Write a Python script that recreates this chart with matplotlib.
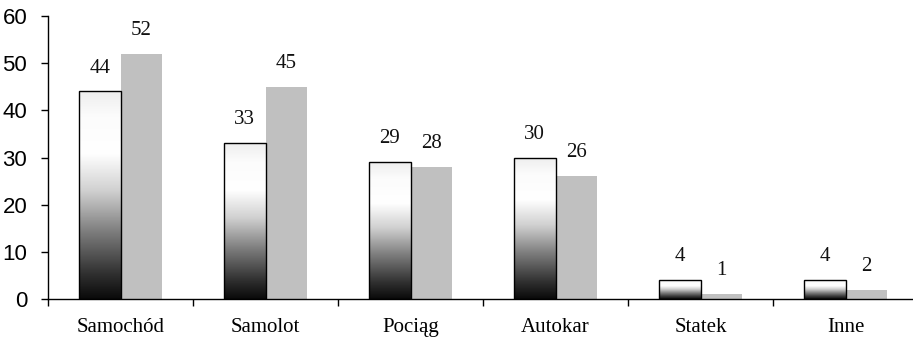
import matplotlib
matplotlib.use("Agg")
import matplotlib.pyplot as plt
import numpy as np
from matplotlib.colors import LinearSegmentedColormap

categories = ["Samochód", "Samolot", "Pociąg", "Autokar", "Statek", "Inne"]
series_a = [44, 33, 29, 30, 4, 4]
series_b = [52, 45, 28, 26, 1, 2]
yticks = [0, 10, 20, 30, 40, 50, 60]

fig = plt.figure(figsize=(9.13, 3.39), dpi=100)
ax = fig.add_axes([48/913, 40/339, 870/913, 283/339])

cmap = LinearSegmentedColormap.from_list("grad", [
    (0.0, "#0a0a0a"), (0.12, "#303030"), (0.32, "#7c7c7c"),
    (0.52, "#d0d0d0"), (0.7, "#ffffff"), (0.88, "#fcfcfc"), (1.0, "#eeeeee")])

n = len(categories)
centers = np.arange(n) + 0.5
w = 0.286
grad = np.linspace(0, 1, 256).reshape(-1, 1)

bars_a = ax.bar(centers - w/2, series_a, width=w, facecolor="none",
                edgecolor="black", linewidth=1.0, zorder=3)
bars_b = ax.bar(centers + w/2, series_b, width=w, color="#c0c0c0",
                edgecolor="none", zorder=2)

for b in bars_a:
    x0, y0 = b.get_x(), b.get_y()
    bw, bh = b.get_width(), b.get_height()
    im = ax.imshow(grad, cmap=cmap, origin="lower", aspect="auto",
                   extent=[x0, x0 + bw, y0, y0 + bh], zorder=2.5,
                   interpolation="bilinear")
    im.set_clip_path(b)

for bars, vals in ((bars_a, series_a), (bars_b, series_b)):
    for b, v in zip(bars, vals):
        ax.annotate(str(v), (b.get_x() + b.get_width()/2, b.get_height()),
                    xytext=(0, 10), textcoords="offset points",
                    ha="center", va="bottom", fontsize=15,
                    family="Liberation Serif", color="#111111")

ax.set_xlim(0, n)
ax.set_ylim(0, 60)
ax.set_yticks(yticks)
ax.set_yticklabels([str(t) for t in yticks], family="Liberation Sans", fontsize=16)
ax.set_xticks(np.arange(n + 1))
ax.set_xticklabels([])
ax.set_xticks(centers, minor=True)
ax.set_xticklabels(categories, minor=True, family="Liberation Serif", fontsize=15)
ax.tick_params(axis="x", which="minor", length=0, pad=14)
ax.tick_params(axis="x", which="major", length=5, width=1, direction="out")
ax.tick_params(axis="y", length=5, width=1, direction="out", pad=10)

for s in ("top", "right"):
    ax.spines[s].set_visible(False)
for s in ("left", "bottom"):
    ax.spines[s].set_linewidth(1)
    ax.spines[s].set_color("black")

fig.savefig("out.png", dpi=100)
